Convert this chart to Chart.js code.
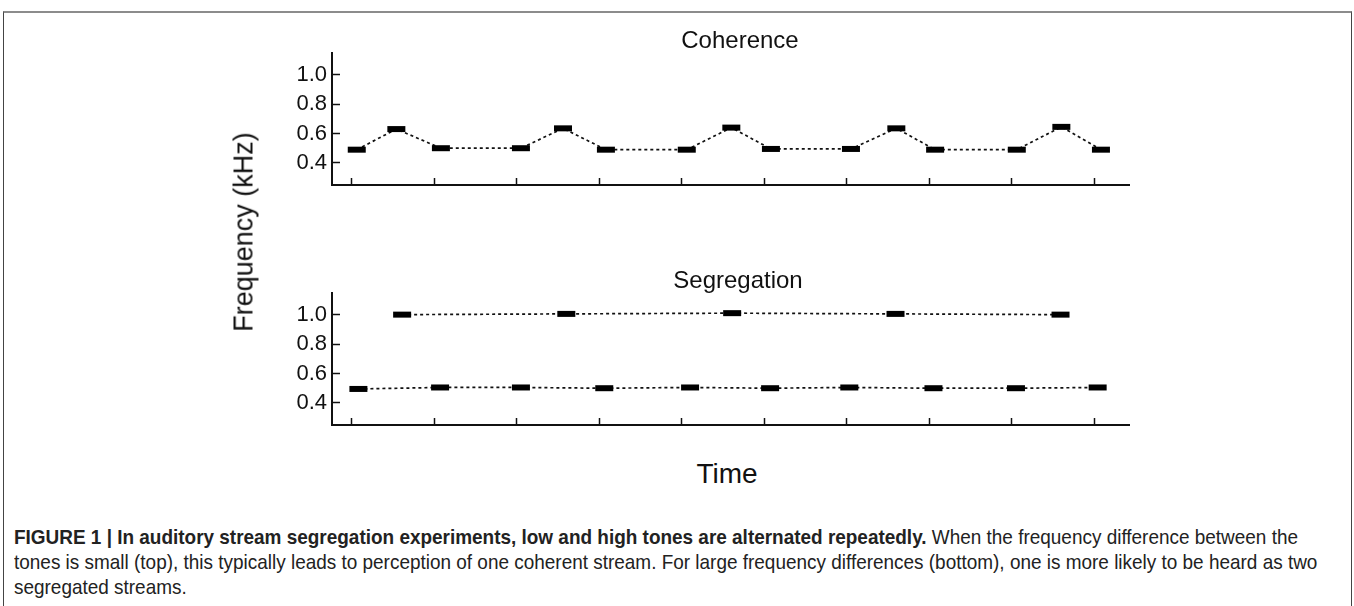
<!DOCTYPE html>
<html>
<head>
<meta charset="utf-8">
<script src="https://cdn.jsdelivr.net/npm/chart.js@4.4.1/dist/chart.umd.min.js"></script>
<style>
  body { margin: 0; background: #fff; width: 1354px; height: 606px; overflow: hidden; position: relative; font-family: "Liberation Sans", Arial, sans-serif; }
  .frame { position: absolute; left: 3px; top: 11px; width: 1347px; height: 620px; border-top: 2px solid #8c8c8c; border-left: 1px solid #444; border-right: 1px solid #444; }
  .box { position: absolute; left: 0; width: 1354px; height: 200px; }
  .title { position: absolute; font-size: 24px; color: #111; transform: translateX(-50%); white-space: nowrap; }
  #ylab { position: absolute; left: 244px; top: 232px; font-size: 27px; color: #111; transform: translate(-50%, -50%) rotate(-90deg); white-space: nowrap; }
  #xlab { position: absolute; left: 727px; top: 474px; font-size: 28px; color: #111; transform: translate(-50%, -50%); }
  #caption { position: absolute; left: 14px; top: 524px; font-family: "Liberation Sans", Arial, sans-serif; font-size: 21px; line-height: 25px; color: #222; white-space: nowrap; transform-origin: 0 0; }
</style>
</head>
<body>
<div class="frame"></div>
<div class="box" style="top:0"><canvas id="coh"></canvas></div>
<div class="box" style="top:240px"><canvas id="seg"></canvas></div>
<div class="title" style="left:740px; top:26px">Coherence</div>
<div class="title" style="left:738px; top:266px">Segregation</div>
<div id="ylab">Frequency (kHz)</div>
<div id="xlab">Time</div>
<div id="caption"><span id="line1"><b>FIGURE 1 | In auditory stream segregation experiments, low and high tones are alternated repeatedly.</b> When the frequency difference between the</span><br>tones is small (top), this typically leads to perception of one coherent stream. For large frequency differences (bottom), one is more likely to be heard as two<br>segregated streams.</div>
<script>
// time in tick units, frequency in kHz
const timeTicks = [0, 1, 2, 3, 4, 5, 6, 7, 8, 9];
const freqTicks = [0.4, 0.6, 0.8, 1.0];

const cohTime = [0.06, 0.54, 1.08, 2.05, 2.56, 3.08, 4.06, 4.6, 5.08, 6.05, 6.6, 7.07, 8.06, 8.6, 9.08];
const cohFreq = [0.49, 0.63, 0.50, 0.50, 0.635, 0.49, 0.49, 0.64, 0.495, 0.495, 0.635, 0.49, 0.49, 0.645, 0.49];

const segHighTime = [0.61, 2.6, 4.61, 6.59, 8.59];
const segHighFreq = [1.0, 1.005, 1.01, 1.005, 1.0];
const segLowTime = [0.08, 1.07, 2.05, 3.06, 4.1, 5.07, 6.03, 7.05, 8.05, 9.04];
const segLowFreq = [0.495, 0.505, 0.505, 0.5, 0.505, 0.5, 0.505, 0.5, 0.5, 0.505];

function pts(xs, ys) {
  return xs.map((x, i) => ({ x: x, y: ys[i] }));
}

function toneSet(data) {
  return {
    data: data,
    showLine: true,
    borderColor: '#111',
    borderWidth: 1.7,
    borderDash: [3, 3],
    pointStyle: 'line',
    pointRadius: 9,
    pointHoverRadius: 9,
    pointBorderWidth: 6,
    pointHoverBorderWidth: 6,
    pointBorderColor: '#000',
    fill: false
  };
}

function makeChart(id, datasets) {
  return new Chart(document.getElementById(id), {
    type: 'scatter',
    data: { datasets: datasets },
    options: {
      responsive: true,
      maintainAspectRatio: false,
      animation: false,
      events: [],
      layout: { padding: { left: 242, right: 225, top: 53, bottom: 12.5 } },
      plugins: { legend: { display: false }, tooltip: { enabled: false } },
      scales: {
        x: {
          type: 'linear',
          min: -0.24,
          max: 9.42,
          afterBuildTicks: s => { s.ticks = timeTicks.map(v => ({ value: v })); },
          afterFit: s => { s.height = 0; },
          ticks: { display: false },
          grid: { drawOnChartArea: false, drawTicks: true, tickLength: -7, tickWidth: 1.5, tickColor: '#111' },
          border: { display: true, color: '#111', width: 2 }
        },
        y: {
          type: 'linear',
          min: 0.25,
          max: 1.147,
          afterBuildTicks: s => { s.ticks = freqTicks.map(v => ({ value: v })); },
          // fixed width, and no extra room for half labels at the ends
          afterFit: s => { s.width = 90; s.paddingTop = 0; s.paddingBottom = 0; },
          ticks: {
            padding: 13,
            color: '#111',
            font: { family: 'Liberation Sans', size: 22 },
            callback: v => v.toFixed(1)
          },
          grid: { drawOnChartArea: false, drawTicks: true, tickLength: -8, tickWidth: 1.5, tickColor: '#111' },
          border: { display: true, color: '#111', width: 2 }
        }
      }
    }
  });
}

makeChart('coh', [toneSet(pts(cohTime, cohFreq))]);
makeChart('seg', [toneSet(pts(segHighTime, segHighFreq)), toneSet(pts(segLowTime, segLowFreq))]);

// squeeze the caption to the narrow width of the original typeface
const w1 = document.getElementById('line1').getBoundingClientRect().width;
document.getElementById('caption').style.transform = 'scaleX(' + (1284 / w1) + ')';
</script>
</body>
</html>
